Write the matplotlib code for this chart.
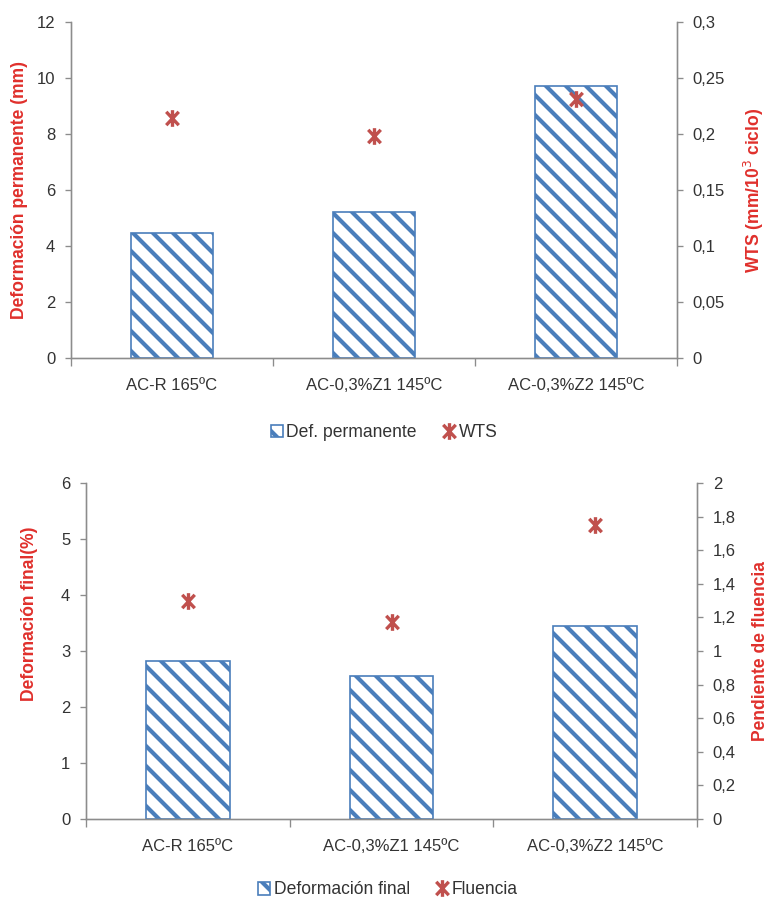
import numpy as np
import matplotlib
matplotlib.use('Agg')
import matplotlib.pyplot as plt
from matplotlib.path import Path
from matplotlib.ticker import FuncFormatter, FixedLocator

# Datos
categorias = ['AC-R 165ºC', 'AC-0,3%Z1 145ºC', 'AC-0,3%Z2 145ºC']
def_permanente = [4.45, 5.2, 9.72]
wts = [0.214, 0.198, 0.231]
def_final = [2.82, 2.55, 3.45]
fluencia = [1.30, 1.17, 1.75]

AZUL = '#4a7ebb'
ROJO_MARCA = '#c0504d'
ROJO_TEXTO = '#e0302c'
GRIS = '#8c8c8c'
TEXTO = '#333333'

plt.rcParams['font.family'] = ['Liberation Sans', 'DejaVu Sans']
plt.rcParams['hatch.linewidth'] = 2.5
plt.rcParams['hatch.color'] = AZUL

# marcador tipo Excel: aspa con línea vertical
estrella = Path([(0, -1), (0, 1), (-0.75, -0.8), (0.75, 0.8), (-0.75, 0.8), (0.75, -0.8)],
                [Path.MOVETO, Path.LINETO, Path.MOVETO, Path.LINETO, Path.MOVETO, Path.LINETO])

coma = FuncFormatter(lambda v, p: '{:g}'.format(round(v, 4)).replace('.', ','))


def panel(ax, barras, puntos, ymax1, paso1, ymax2, paso2, lab1, lab2, ley1, ley2, pos1, pos2):
    x = np.arange(len(categorias))
    ax.bar(x, barras, width=0.41, facecolor='white', edgecolor=AZUL,
           hatch='\\\\', linewidth=1.0, label=ley1, zorder=2)
    ax.set_xlim(-0.5, 2.5)
    ax.set_ylim(0, ymax1)
    ax.set_yticks(np.arange(0, ymax1 + paso1 / 2, paso1))
    ax.xaxis.set_major_locator(FixedLocator([-0.5, 0.5, 1.5, 2.5]))
    ax.xaxis.set_minor_locator(FixedLocator(x))
    ax.set_xticklabels([])
    ax.set_xticklabels(categorias, minor=True)
    ax.tick_params(axis='x', which='major', length=4.5, color=GRIS, direction='out')
    ax.tick_params(axis='x', which='minor', length=0, pad=12, labelsize=10, labelcolor=TEXTO)
    ax.tick_params(axis='y', length=3.5, color=GRIS, labelsize=10, labelcolor=TEXTO, pad=6)
    ax.spines['top'].set_visible(False)
    for s in ['left', 'right', 'bottom']:
        ax.spines[s].set_color(GRIS)
    ax.set_ylabel(lab1, color=ROJO_TEXTO, fontweight='bold', fontsize=10.5)
    ax.yaxis.set_label_coords(*pos1)

    ax2 = ax.twinx()
    ax2.plot(x, puntos, linestyle='none', marker=estrella, markersize=10,
             markeredgewidth=2.0, color=ROJO_MARCA, label=ley2, zorder=3)
    ax2.set_ylim(0, ymax2)
    ax2.set_yticks(np.arange(0, ymax2 + paso2 / 2, paso2))
    ax2.yaxis.set_major_formatter(coma)
    ax2.tick_params(axis='y', length=3.5, color=GRIS, labelsize=10, labelcolor=TEXTO, pad=6)
    ax2.spines['top'].set_visible(False)
    for s in ['left', 'right', 'bottom']:
        ax2.spines[s].set_color(GRIS)
    ax2.set_ylabel(lab2, color=ROJO_TEXTO, fontweight='bold', fontsize=10.5, rotation=90)
    ax2.yaxis.set_label_coords(*pos2)
    return ax2


fig = plt.figure(figsize=(6.4, 902 / 120), dpi=120)

ax1 = fig.add_axes([71 / 768, 1 - 358 / 902, (677 - 71) / 768, (358 - 22) / 902])
ax1b = panel(ax1, def_permanente, wts, 12, 2, 0.3, 0.05,
             'Deformación permanente (mm)', 'WTS (mm/10$^3$ ciclo)',
             'Def. permanente', 'WTS', (-0.071, 0.5), (1.107, 0.5))

ax2 = fig.add_axes([86 / 768, 1 - 819 / 902, (697 - 86) / 768, (819 - 483) / 902])
ax2b = panel(ax2, def_final, fluencia, 6, 1, 2, 0.2,
             'Deformación final(%)', 'Pendiente de fluencia',
             'Deformación final', 'Fluencia', (-0.079, 0.61), (1.09, 0.5))

for ax, axb, xx, yy in [(ax1, ax1b, 384, 433), (ax2, ax2b, 388, 890)]:
    h1, l1 = ax.get_legend_handles_labels()
    h2, l2 = axb.get_legend_handles_labels()
    fig.legend(h1 + h2, l1 + l2, loc='center', bbox_to_anchor=(xx / 768, 1 - yy / 902),
               ncol=2, frameon=False, fontsize=10.5, handlelength=0.7, handleheight=0.7,
               handletextpad=0.2, columnspacing=1.5, labelcolor=TEXTO)

fig.savefig('out.png', dpi=120, facecolor='white')
